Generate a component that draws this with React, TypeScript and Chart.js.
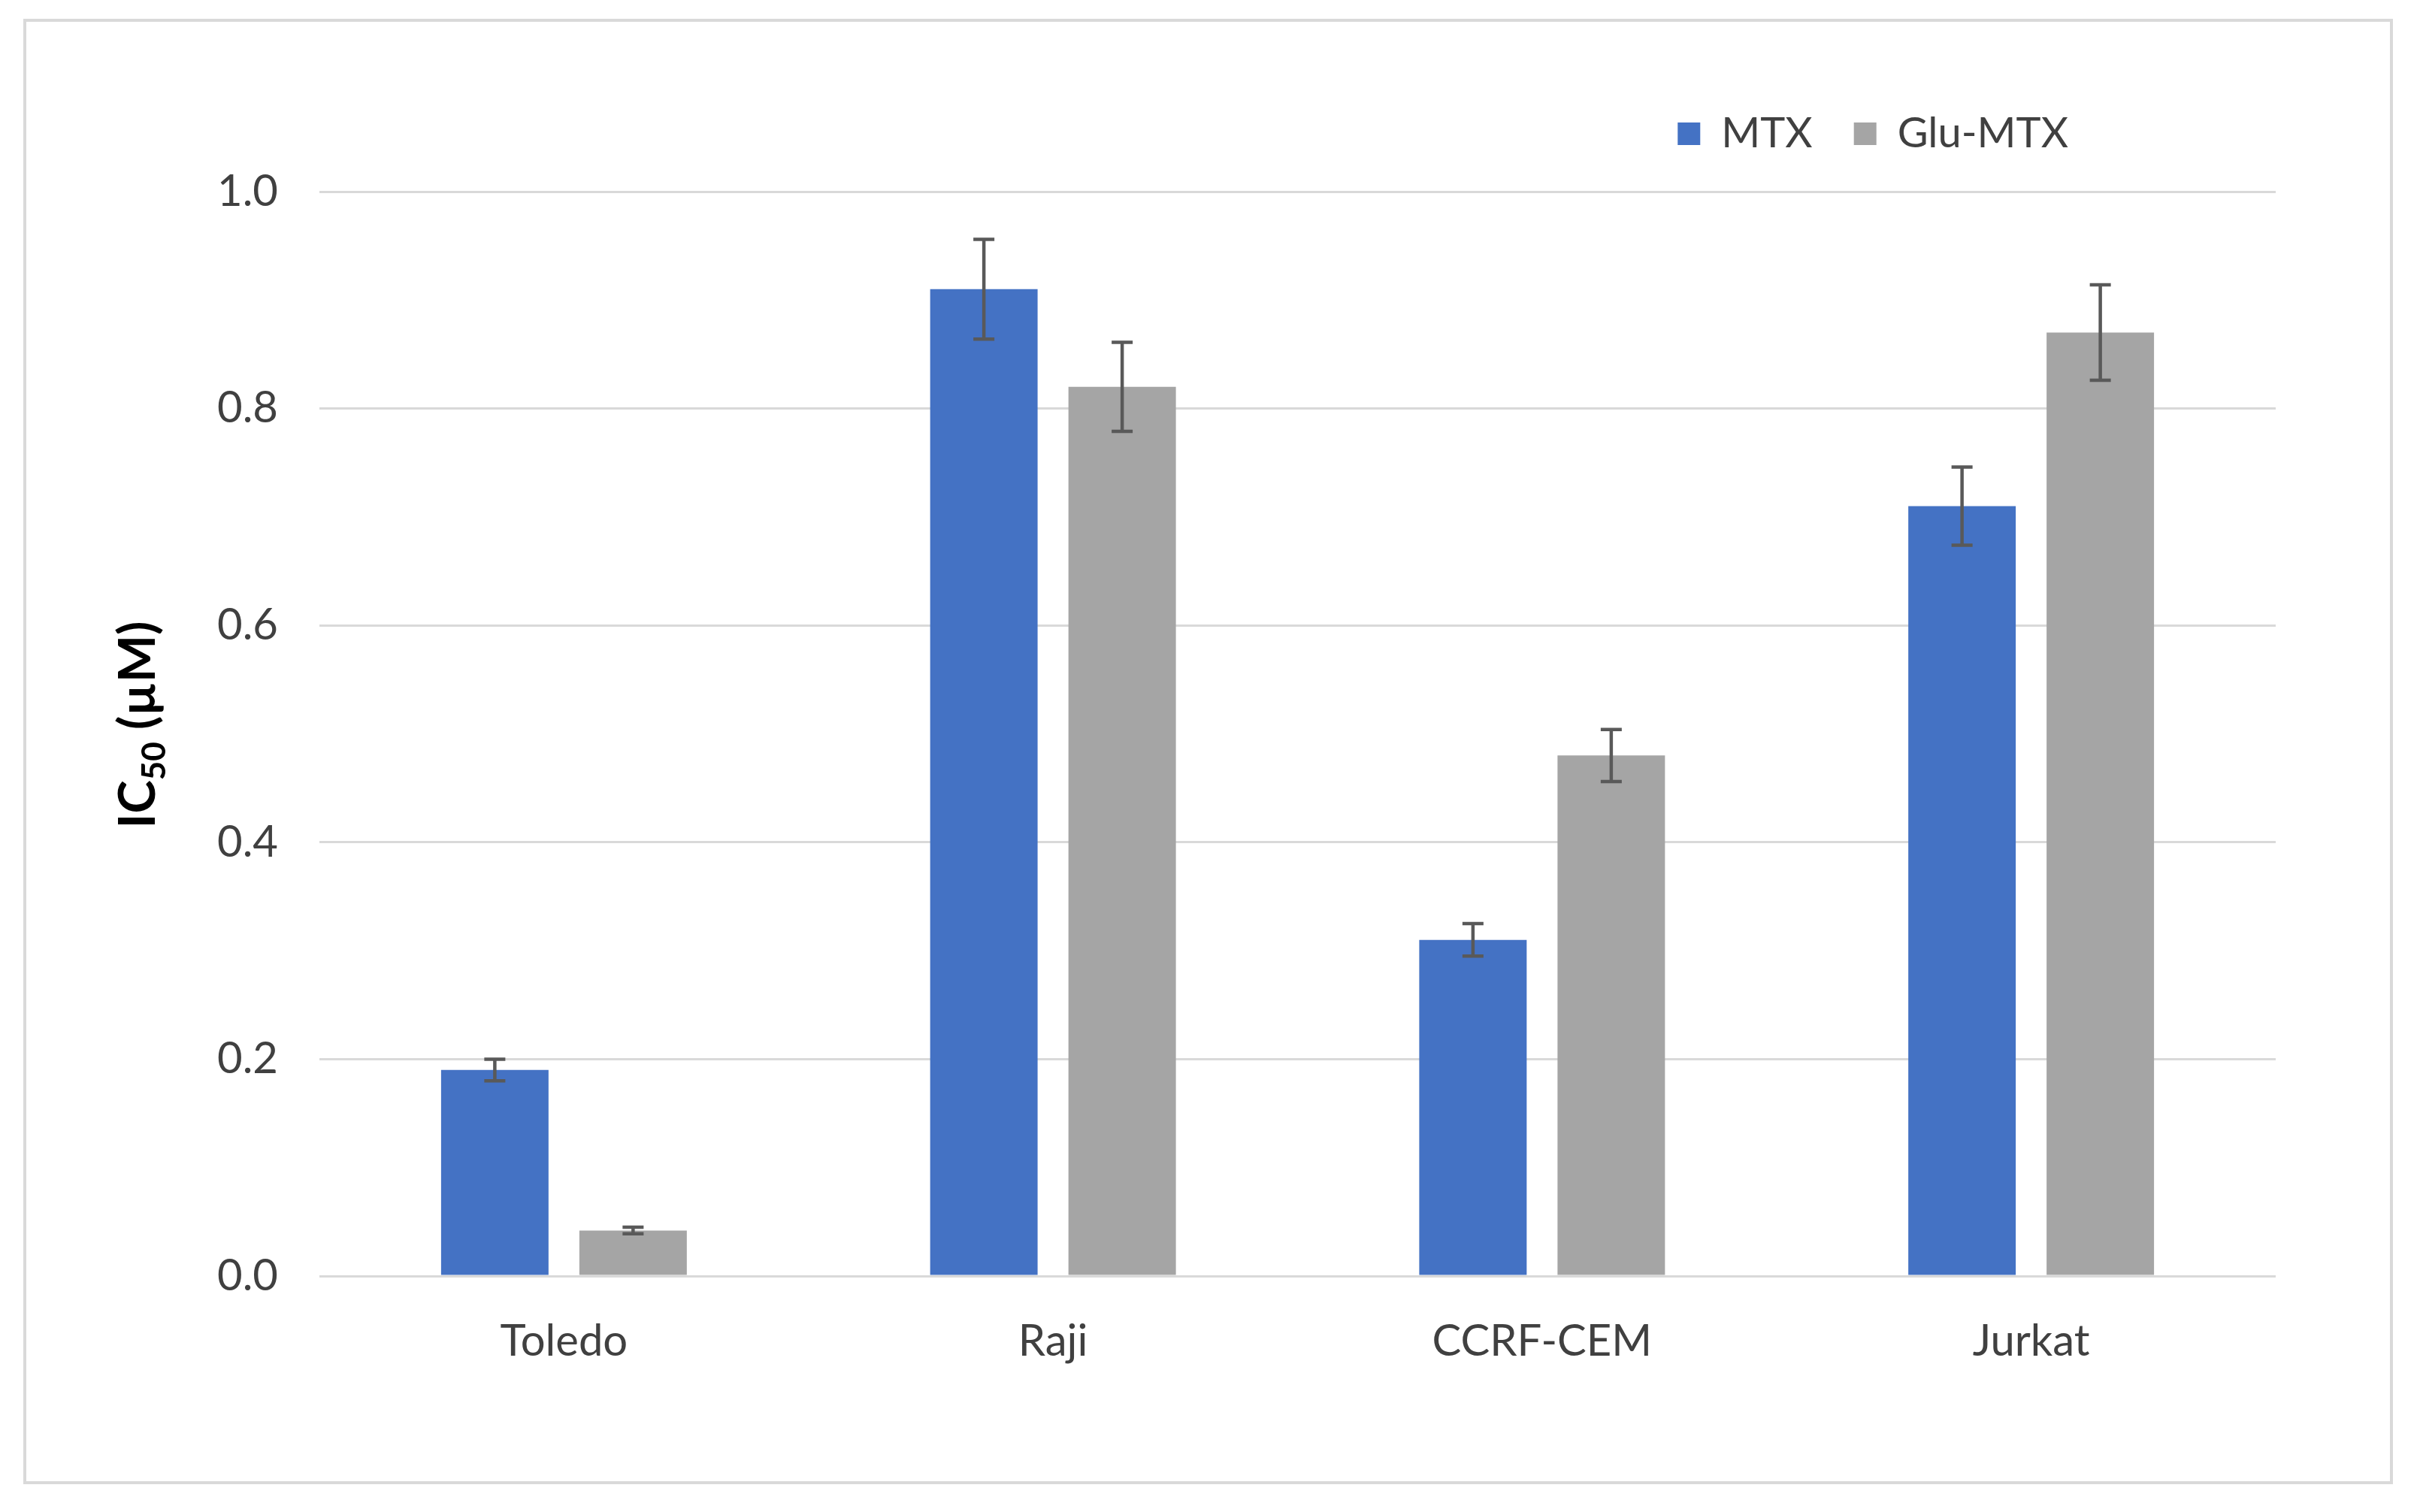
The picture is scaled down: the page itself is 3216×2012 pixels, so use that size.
import React, { useEffect, useRef } from "react";
import { Chart, registerables } from "chart.js";

Chart.register(...registerables);

const categories = ["Toledo", "Raji", "CCRF-CEM", "Jurkat"];
const seriesNames = ["MTX", "Glu-MTX"];
const mtxValues = [0.19, 0.91, 0.31, 0.71];
const mtxErrors = [0.01, 0.046, 0.015, 0.036];
const gluValues = [0.042, 0.82, 0.48, 0.87];
const gluErrors = [0.003, 0.041, 0.024, 0.044];
const yTickLabels = ["0.0", "0.2", "0.4", "0.6", "0.8", "1.0"];
const yTitleMain = "IC";
const yTitleSub = "50";
const yTitleRest = " (µM)";

const FONT = "Lato";
const TEXT = "#595959";

const errorBarPlugin = {
  id: "errorBars",
  afterDatasetsDraw(chart: any) {
    const ctx = chart.ctx;
    const yScale = chart.scales.y;
    const errs = [mtxErrors, gluErrors];
    ctx.save();
    ctx.strokeStyle = "#595959";
    ctx.lineWidth = 4.5;
    chart.data.datasets.forEach((ds: any, i: number) => {
      const meta = chart.getDatasetMeta(i);
      meta.data.forEach((bar: any, j: number) => {
        const v = ds.data[j];
        const e = errs[i][j];
        const x = bar.x;
        const yTop = yScale.getPixelForValue(v + e);
        const yBot = yScale.getPixelForValue(v - e);
        const cap = 14;
        ctx.beginPath();
        ctx.moveTo(x, yTop);
        ctx.lineTo(x, yBot);
        ctx.moveTo(x - cap, yTop);
        ctx.lineTo(x + cap, yTop);
        ctx.moveTo(x - cap, yBot);
        ctx.lineTo(x + cap, yBot);
        ctx.stroke();
      });
    });
    ctx.restore();
  },
};

const yTitlePlugin = {
  id: "yTitle",
  afterDraw(chart: any) {
    const ctx = chart.ctx;
    const area = chart.chartArea;
    const F = 67;
    const subF = Math.round(F * 0.65);
    const cx = 182;
    const cy = (area.top + area.bottom) / 2 - 12;
    ctx.save();
    ctx.fillStyle = "#000000";
    ctx.textBaseline = "alphabetic";
    ctx.textAlign = "left";
    const mainFont = `bold ${F}px ${FONT}`;
    const subFont = `bold ${subF}px ${FONT}`;
    ctx.font = mainFont;
    const w1 = ctx.measureText(yTitleMain).width;
    const w3 = ctx.measureText(yTitleRest).width;
    ctx.font = subFont;
    const w2 = ctx.measureText(yTitleSub).width;
    const total = w1 + w2 + w3;
    ctx.translate(cx, cy);
    ctx.rotate(-Math.PI / 2);
    const base = F * 0.36;
    let x = -total / 2;
    ctx.font = mainFont;
    ctx.fillText(yTitleMain, x, base);
    x += w1;
    ctx.font = subFont;
    ctx.fillText(yTitleSub, x, base + F * 0.2);
    x += w2;
    ctx.font = mainFont;
    ctx.fillText(yTitleRest, x, base);
    ctx.restore();
  },
};

const legendPlacePlugin = {
  id: "legendPlace",
  beforeDraw(chart: any) {
    const lg = chart.legend;
    if (!lg) return;
    const h = lg.height;
    const w = lg.width;
    lg.top = 95;
    lg.bottom = lg.top + h;
    lg.right = 2807;
    lg.left = lg.right - w;
  },
};

export default function App() {
  const ref = useRef<HTMLCanvasElement | null>(null);
  useEffect(() => {
    if (!ref.current) return;
    const chart = new Chart(ref.current, {
      type: "bar",
      data: {
        labels: categories,
        datasets: [
          {
            label: seriesNames[0],
            data: mtxValues,
            backgroundColor: "#4472C4",
            barPercentage: 0.777,
            categoryPercentage: 0.5655,
          },
          {
            label: seriesNames[1],
            data: gluValues,
            backgroundColor: "#A5A5A5",
            barPercentage: 0.777,
            categoryPercentage: 0.5655,
          },
        ],
      },
      options: {
        responsive: false,
        animation: false,
        devicePixelRatio: 1,
        layout: { padding: { left: 0, right: 188, top: 134, bottom: 0 } },
        plugins: {
          legend: {
            display: true,
            position: "top",
            align: "end",
            labels: {
              boxWidth: 30,
              boxHeight: 30,
              padding: 55,
              color: "#404040",
              font: { family: FONT, size: 56 },
            },
          },
          tooltip: { enabled: false },
          title: { display: false },
        },
        scales: {
          x: {
            grid: { display: false, drawTicks: false },
            border: { display: false },
            ticks: {
              color: "#404040",
              padding: 52,
              font: { family: FONT, size: 58 },
            },
            afterFit(scale: any) {
              scale.height = 314;
            },
          },
          y: {
            min: 0,
            max: 1,
            grid: { color: "#D9D9D9", lineWidth: 3, drawTicks: false },
            border: { display: false },
            ticks: {
              stepSize: 0.2,
              color: "#404040",
              padding: 55,
              font: { family: FONT, size: 58 },
              callback: (_v: any, i: number) => yTickLabels[i],
            },
            afterFit(scale: any) {
              scale.width = 425;
            },
          },
        },
      },
      plugins: [errorBarPlugin, yTitlePlugin, legendPlacePlugin],
    });
    return () => chart.destroy();
  }, []);

  return (
    <div style={{ position: "absolute", left: 0, top: 0, width: 3216, height: 2012, background: "#ffffff" }}>
      <div
        style={{
          position: "absolute",
          left: 31,
          top: 25,
          width: 3153,
          height: 1950,
          border: "4px solid #D9D9D9",
          boxSizing: "border-box",
        }}
      />
      <canvas ref={ref} width={3216} height={2012} style={{ position: "absolute", left: 0, top: 0 }} />
    </div>
  );
}
